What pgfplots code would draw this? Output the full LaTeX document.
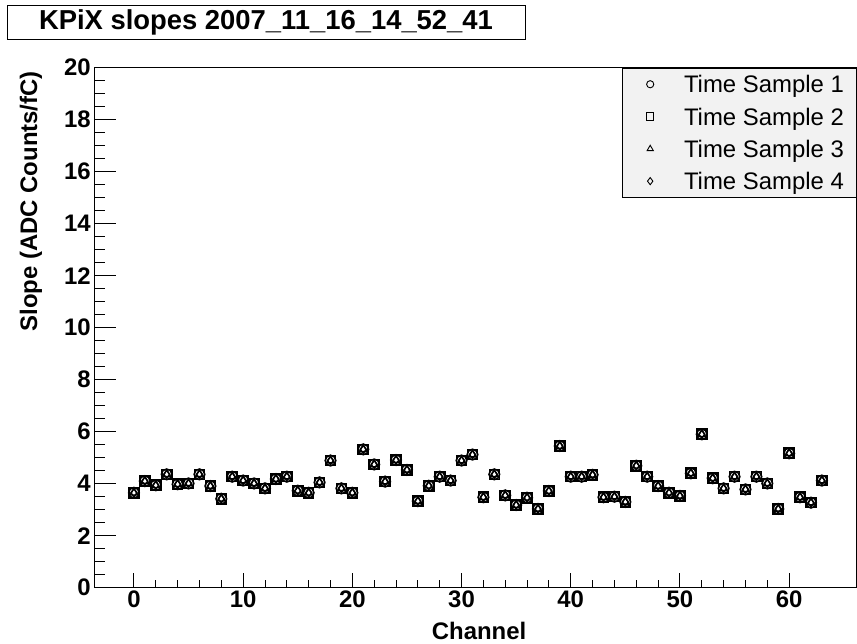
\documentclass[border=0pt]{standalone}
\usepackage{fontspec}
\setmainfont{Liberation Sans}
\usepackage{pgfplots}
\usepackage{pgfplotstable}
\pgfplotsset{compat=1.18}
\pgfplotstableread{
ch s1 s2 s3 s4
0 3.65 3.65 3.65 3.65
1 4.10 4.10 4.10 4.10
2 3.94 3.94 3.94 3.94
3 4.36 4.36 4.36 4.36
4 3.98 3.98 3.98 3.98
5 4.01 4.01 4.01 4.01
6 4.36 4.36 4.36 4.36
7 3.91 3.91 3.91 3.91
8 3.42 3.42 3.42 3.42
9 4.27 4.27 4.27 4.27
10 4.12 4.12 4.12 4.12
11 4.01 4.01 4.01 4.01
12 3.82 3.82 3.82 3.82
13 4.18 4.18 4.18 4.18
14 4.27 4.27 4.27 4.27
15 3.73 3.73 3.73 3.73
16 3.65 3.65 3.65 3.65
17 4.05 4.05 4.05 4.05
18 4.89 4.89 4.89 4.89
19 3.82 3.82 3.82 3.82
20 3.65 3.65 3.65 3.65
21 5.32 5.32 5.32 5.32
22 4.74 4.74 4.74 4.74
23 4.08 4.08 4.08 4.08
24 4.91 4.91 4.91 4.91
25 4.53 4.53 4.53 4.53
26 3.33 3.33 3.33 3.33
27 3.92 3.92 3.92 3.92
28 4.27 4.27 4.27 4.27
29 4.12 4.12 4.12 4.12
30 4.89 4.89 4.89 4.89
31 5.12 5.12 5.12 5.12
32 3.48 3.48 3.48 3.48
33 4.36 4.36 4.36 4.36
34 3.55 3.55 3.55 3.55
35 3.18 3.18 3.18 3.18
36 3.46 3.46 3.46 3.46
37 3.03 3.03 3.03 3.03
38 3.72 3.72 3.72 3.72
39 5.45 5.45 5.45 5.45
40 4.27 4.27 4.27 4.27
41 4.27 4.27 4.27 4.27
42 4.34 4.34 4.34 4.34
43 3.48 3.48 3.48 3.48
44 3.50 3.50 3.50 3.50
45 3.30 3.30 3.30 3.30
46 4.69 4.69 4.69 4.69
47 4.27 4.27 4.27 4.27
48 3.91 3.91 3.91 3.91
49 3.65 3.65 3.65 3.65
50 3.53 3.53 3.53 3.53
51 4.40 4.40 4.40 4.40
52 5.90 5.90 5.90 5.90
53 4.21 4.21 4.21 4.21
54 3.82 3.82 3.82 3.82
55 4.27 4.27 4.27 4.27
56 3.78 3.78 3.78 3.78
57 4.27 4.27 4.27 4.27
58 4.01 4.01 4.01 4.01
59 3.03 3.03 3.03 3.03
60 5.17 5.17 5.17 5.17
61 3.48 3.48 3.48 3.48
62 3.27 3.27 3.27 3.27
63 4.12 4.12 4.12 4.12
}\slopes
\begin{document}
\begin{tikzpicture}
\useasboundingbox (0,0) rectangle (857bp,644bp);
\node[draw=black, line width=0.9bp, minimum width=518bp, minimum height=34.3bp, inner sep=0pt,
  font=\fontsize{27.5}{28}\selectfont\bfseries] at (266bp,621.2bp) {KPiX slopes 2007\_11\_16\_14\_52\_41};
\begin{axis}[
  at={(94.3bp,56.3bp)}, anchor=south west,
  scale only axis, width=762bp, height=520bp,
  xmin=-3.63, xmax=66.15, ymin=0, ymax=20,
  xtick={0,10,...,60}, minor x tick num=4,
  ytick={0,2,...,20}, minor y tick num=3,
  tick pos=left, tick align=inside,
  xtick style={/pgfplots/major tick length=15bp,/pgfplots/minor tick length=7.5bp,line width=0.9bp,black},
  ytick style={/pgfplots/major tick length=22bp,/pgfplots/minor tick length=11bp,line width=0.9bp,black},
  axis line style={line width=1.1bp},
  /pgf/number format/assume math mode=true,
  ticklabel style={font=\fontsize{24}{24}\selectfont\bfseries},
  xlabel={Channel}, ylabel={Slope (ADC Counts/fC)},
  label style={font=\fontsize{24}{24}\selectfont\bfseries},
  xlabel style={at={(axis description cs:0.505,0)}, anchor=base, yshift=-51.3bp},
  ylabel style={at={(axis description cs:-0.0831,1)}, anchor=east, rotate=0},
  legend style={at={(1,1)}, anchor=north east, draw=black, line width=0.8bp, fill=gray!10,
    inner xsep=12bp, inner ysep=0bp, row sep=0pt,
    font=\fontsize{24}{27}\selectfont,
    nodes={inner sep=0pt, text height=24.7bp, text depth=7.6bp, anchor=west}},
  legend cell align=left,
  legend image code/.code={\path (0bp,0bp) (48bp,0bp);\draw[#1,mark size=3.6bp,line width=0.9bp] plot coordinates {(15bp,0bp)};},
]
\addplot[only marks, mark=o, mark size=5.3bp, line width=1.6bp, black] table[x=ch,y=s1] {\slopes};
\addlegendentry{Time Sample 1}
\addplot[only marks, mark=square, mark size=5bp, line width=1.6bp, black] table[x=ch,y=s2] {\slopes};
\addlegendentry{Time Sample 2}
\addplot[only marks, mark=triangle, mark size=4.5bp, line width=1.4bp, black] table[x=ch,y=s3] {\slopes};
\addlegendentry{Time Sample 3}
\addplot[only marks, mark=diamond, mark size=4bp, line width=1.4bp, black] table[x=ch,y=s4] {\slopes};
\addlegendentry{Time Sample 4}
\end{axis}
\end{tikzpicture}
\end{document}
